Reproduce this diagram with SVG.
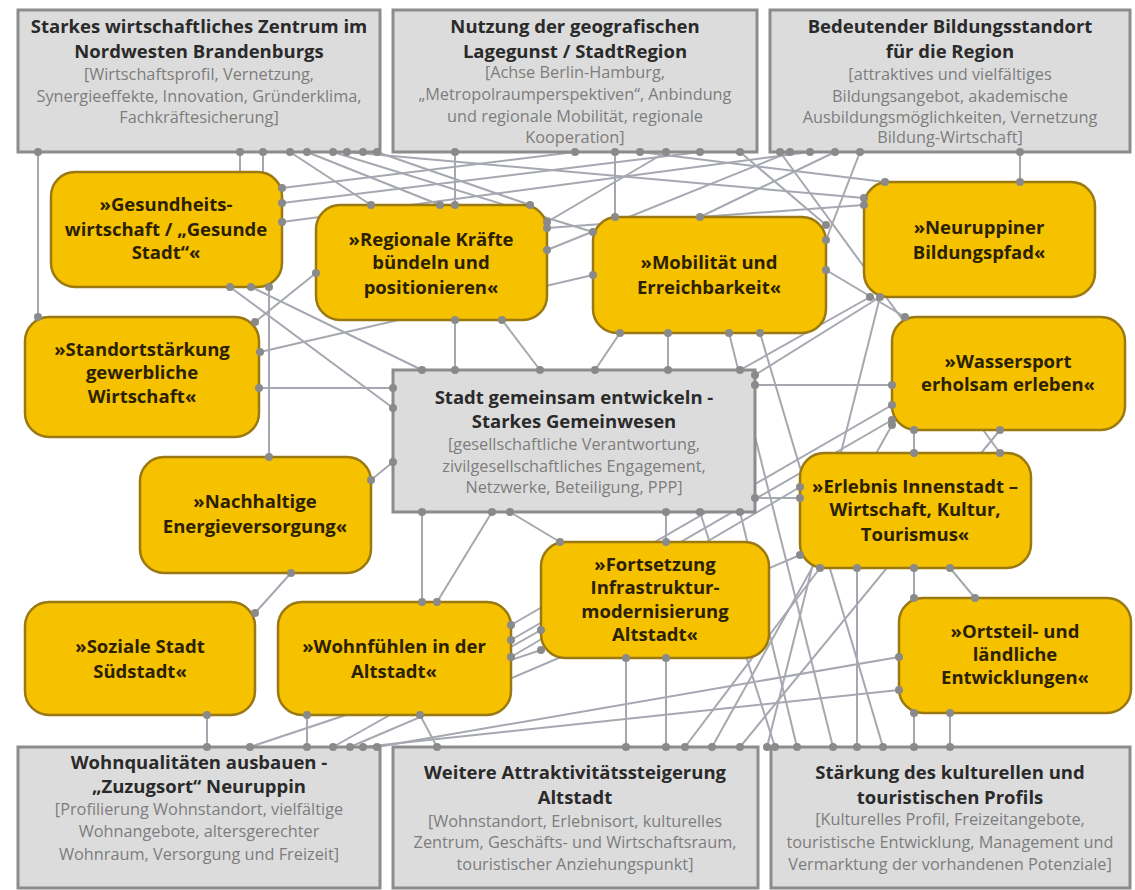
<svg xmlns="http://www.w3.org/2000/svg" width="1135" height="890" viewBox="0 0 1135 890">
<style>
.g rect{fill:#dcdcdc;stroke:#8c8c8c;stroke-width:3}
.y rect{fill:#f6c200;stroke:#9a7812;stroke-width:2.5}
.t{font-family:"Open Sans","Liberation Sans",sans-serif;font-weight:bold;font-size:18.5px;fill:#2a2a2a;text-anchor:middle}
.s{font-family:"Open Sans","Liberation Sans",sans-serif;font-size:16.3px;fill:#7d7d7d;text-anchor:middle}
.yt{font-family:"Open Sans","Liberation Sans",sans-serif;font-weight:bold;font-size:18.5px;fill:#2b2100;text-anchor:middle}
#connectors line{stroke:#a6a8b1;stroke-width:2}
#dots circle{fill:#8a8a8a}
</style>
<rect width="1135" height="890" fill="#ffffff"/>
<g id="connectors">
<line x1="38" y1="152" x2="38" y2="317"/>
<line x1="240" y1="152" x2="240" y2="172"/>
<line x1="263" y1="152" x2="263" y2="172"/>
<line x1="269" y1="287" x2="269" y2="457"/>
<line x1="290" y1="152" x2="371" y2="205"/>
<line x1="307" y1="152" x2="440" y2="205"/>
<line x1="333" y1="152" x2="593" y2="232"/>
<line x1="347" y1="152" x2="864" y2="198"/>
<line x1="377" y1="152" x2="530" y2="205"/>
<line x1="455" y1="152" x2="455" y2="205"/>
<line x1="575" y1="152" x2="282" y2="188"/>
<line x1="700" y1="152" x2="282" y2="203"/>
<line x1="615" y1="152" x2="615" y2="217"/>
<line x1="640" y1="152" x2="885" y2="182"/>
<line x1="666" y1="152" x2="547" y2="222"/>
<line x1="790" y1="152" x2="547" y2="250"/>
<line x1="810" y1="152" x2="282" y2="222"/>
<line x1="835" y1="152" x2="700" y2="217"/>
<line x1="860" y1="152" x2="826" y2="240"/>
<line x1="1020" y1="152" x2="1020" y2="182"/>
<line x1="547" y1="228" x2="864" y2="205"/>
<line x1="826" y1="270" x2="905" y2="317"/>
<line x1="780" y1="152" x2="1000" y2="453"/>
<line x1="740" y1="152" x2="826" y2="225"/>
<line x1="455" y1="320" x2="455" y2="370"/>
<line x1="502" y1="320" x2="540" y2="370"/>
<line x1="620" y1="333" x2="595" y2="370"/>
<line x1="668" y1="333" x2="668" y2="370"/>
<line x1="729" y1="333" x2="833" y2="747"/>
<line x1="760" y1="333" x2="883" y2="747"/>
<line x1="259" y1="388" x2="393" y2="388"/>
<line x1="255" y1="322" x2="316" y2="273"/>
<line x1="260" y1="352" x2="593" y2="275"/>
<line x1="251" y1="287" x2="422" y2="370"/>
<line x1="230" y1="287" x2="393" y2="408"/>
<line x1="371" y1="480" x2="393" y2="462"/>
<line x1="291" y1="573" x2="255" y2="613"/>
<line x1="422" y1="512" x2="422" y2="602"/>
<line x1="492" y1="512" x2="437" y2="602"/>
<line x1="510" y1="512" x2="560" y2="542"/>
<line x1="666" y1="512" x2="666" y2="542"/>
<line x1="755" y1="498" x2="800" y2="498"/>
<line x1="755" y1="385" x2="892" y2="385"/>
<line x1="880" y1="297" x2="755" y2="375"/>
<line x1="740" y1="370" x2="870" y2="297"/>
<line x1="892" y1="405" x2="511" y2="625"/>
<line x1="511" y1="657" x2="800" y2="487"/>
<line x1="511" y1="640" x2="892" y2="420"/>
<line x1="899" y1="657" x2="377" y2="747"/>
<line x1="899" y1="690" x2="363" y2="747"/>
<line x1="800" y1="555" x2="350" y2="747"/>
<line x1="541" y1="630" x2="333" y2="747"/>
<line x1="541" y1="650" x2="250" y2="747"/>
<line x1="207" y1="715" x2="207" y2="747"/>
<line x1="307" y1="715" x2="307" y2="747"/>
<line x1="437" y1="747" x2="420" y2="715"/>
<line x1="626" y1="658" x2="626" y2="747"/>
<line x1="666" y1="658" x2="666" y2="747"/>
<line x1="685" y1="747" x2="820" y2="568"/>
<line x1="712" y1="747" x2="892" y2="425"/>
<line x1="740" y1="747" x2="1000" y2="430"/>
<line x1="767" y1="747" x2="880" y2="297"/>
<line x1="797" y1="747" x2="740" y2="512"/>
<line x1="775" y1="747" x2="700" y2="512"/>
<line x1="950" y1="713" x2="950" y2="747"/>
<line x1="914" y1="430" x2="914" y2="453"/>
<line x1="914" y1="568" x2="914" y2="598"/>
<line x1="914" y1="713" x2="914" y2="747"/>
<line x1="857" y1="568" x2="857" y2="747"/>
<line x1="950" y1="568" x2="975" y2="598"/>
</g>
<g id="n-t1" class="g"><rect x="18" y="10" width="362" height="142"/>
<text class="t" x="199" y="33">Starkes wirtschaftliches Zentrum im</text>
<text class="t" x="199" y="58">Nordwesten Brandenburgs</text>
<text class="s" x="199" y="80">[Wirtschaftsprofil, Vernetzung,</text>
<text class="s" x="199" y="102">Synergieeffekte, Innovation, Gründerklima,</text>
<text class="s" x="199" y="123">Fachkräftesicherung]</text></g>
<g id="n-t2" class="g"><rect x="393" y="10" width="364" height="142"/>
<text class="t" x="575" y="33">Nutzung der geografischen</text>
<text class="t" x="575" y="58">Lagegunst / StadtRegion</text>
<text class="s" x="575" y="78">[Achse Berlin-Hamburg,</text>
<text class="s" x="575" y="100">„Metropolraumperspektiven“, Anbindung</text>
<text class="s" x="575" y="122">und regionale Mobilität, regionale</text>
<text class="s" x="575" y="143">Kooperation]</text></g>
<g id="n-t3" class="g"><rect x="770" y="10" width="360" height="142"/>
<text class="t" x="950" y="33">Bedeutender Bildungsstandort</text>
<text class="t" x="950" y="58">für die Region</text>
<text class="s" x="950" y="80">[attraktives und vielfältiges</text>
<text class="s" x="950" y="102">Bildungsangebot, akademische</text>
<text class="s" x="950" y="123">Ausbildungsmöglichkeiten, Vernetzung</text>
<text class="s" x="950" y="143">Bildung-Wirtschaft]</text></g>
<g id="n-center" class="g"><rect x="393" y="370" width="362" height="142"/>
<text class="t" x="574" y="404">Stadt gemeinsam entwickeln -</text>
<text class="t" x="574" y="428">Starkes Gemeinwesen</text>
<text class="s" x="574" y="450">[gesellschaftliche Verantwortung,</text>
<text class="s" x="574" y="472">zivilgesellschaftliches Engagement,</text>
<text class="s" x="574" y="493">Netzwerke, Beteiligung, PPP]</text></g>
<g id="n-b1" class="g"><rect x="18" y="747" width="362" height="141"/>
<text class="t" x="199" y="769">Wohnqualitäten ausbauen -</text>
<text class="t" x="199" y="793">„Zuzugsort“ Neuruppin</text>
<text class="s" x="199" y="815">[Profilierung Wohnstandort, vielfältige</text>
<text class="s" x="199" y="837">Wohnangebote, altersgerechter</text>
<text class="s" x="199" y="860">Wohnraum, Versorgung und Freizeit]</text></g>
<g id="n-b2" class="g"><rect x="393" y="747" width="365" height="141"/>
<text class="t" x="575" y="779">Weitere Attraktivitätssteigerung</text>
<text class="t" x="575" y="804">Altstadt</text>
<text class="s" x="575" y="827">[Wohnstandort, Erlebnisort, kulturelles</text>
<text class="s" x="575" y="848">Zentrum, Geschäfts- und Wirtschaftsraum,</text>
<text class="s" x="575" y="870">touristischer Anziehungspunkt]</text></g>
<g id="n-b3" class="g"><rect x="771" y="747" width="359" height="141"/>
<text class="t" x="950" y="779">Stärkung des kulturellen und</text>
<text class="t" x="950" y="804">touristischen Profils</text>
<text class="s" x="950" y="825">[Kulturelles Profil, Freizeitangebote,</text>
<text class="s" x="950" y="848">touristische Entwicklung, Management und</text>
<text class="s" x="950" y="870">Vermarktung der vorhandenen Potenziale]</text></g>
<g id="n-gesundheit" class="y"><rect x="51" y="172" width="231" height="115" rx="24"/>
<text class="yt" x="166" y="211">»Gesundheits-</text>
<text class="yt" x="166" y="236">wirtschaft / „Gesunde</text>
<text class="yt" x="166" y="259">Stadt“«</text></g>
<g id="n-regionale" class="y"><rect x="316" y="205" width="231" height="115" rx="24"/>
<text class="yt" x="431" y="246">»Regionale Kräfte</text>
<text class="yt" x="431" y="269">bündeln und</text>
<text class="yt" x="431" y="294">positionieren«</text></g>
<g id="n-standort" class="y"><rect x="25" y="317" width="234" height="120" rx="24"/>
<text class="yt" x="142" y="356">»Standortstärkung</text>
<text class="yt" x="142" y="379">gewerbliche</text>
<text class="yt" x="142" y="403">Wirtschaft«</text></g>
<g id="n-mobilitaet" class="y"><rect x="593" y="217" width="233" height="116" rx="24"/>
<text class="yt" x="709" y="269">»Mobilität und</text>
<text class="yt" x="709" y="294">Erreichbarkeit«</text></g>
<g id="n-bildungspfad" class="y"><rect x="864" y="182" width="231" height="115" rx="24"/>
<text class="yt" x="979" y="234">»Neuruppiner</text>
<text class="yt" x="979" y="259">Bildungspfad«</text></g>
<g id="n-wassersport" class="y"><rect x="892" y="317" width="233" height="113" rx="24"/>
<text class="yt" x="1008" y="368">»Wassersport</text>
<text class="yt" x="1008" y="391">erholsam erleben«</text></g>
<g id="n-energie" class="y"><rect x="140" y="457" width="231" height="116" rx="24"/>
<text class="yt" x="255" y="508">»Nachhaltige</text>
<text class="yt" x="255" y="533">Energieversorgung«</text></g>
<g id="n-erlebnis" class="y"><rect x="800" y="453" width="231" height="115" rx="24"/>
<text class="yt" x="915" y="493">»Erlebnis Innenstadt –</text>
<text class="yt" x="915" y="516">Wirtschaft, Kultur,</text>
<text class="yt" x="915" y="541">Tourismus«</text></g>
<g id="n-fortsetzung" class="y"><rect x="541" y="542" width="228" height="116" rx="24"/>
<text class="yt" x="655" y="571">»Fortsetzung</text>
<text class="yt" x="655" y="594">Infrastruktur-</text>
<text class="yt" x="655" y="618">modernisierung</text>
<text class="yt" x="655" y="641">Altstadt«</text></g>
<g id="n-soziale" class="y"><rect x="25" y="602" width="230" height="113" rx="24"/>
<text class="yt" x="140" y="653">»Soziale Stadt</text>
<text class="yt" x="140" y="678">Südstadt«</text></g>
<g id="n-wohnfuehlen" class="y"><rect x="278" y="602" width="233" height="113" rx="24"/>
<text class="yt" x="394" y="653">»Wohnfühlen in der</text>
<text class="yt" x="394" y="678">Altstadt«</text></g>
<g id="n-ortsteil" class="y"><rect x="899" y="598" width="232" height="115" rx="24"/>
<text class="yt" x="1015" y="638">»Ortsteil- und</text>
<text class="yt" x="1015" y="661">ländliche</text>
<text class="yt" x="1015" y="684">Entwicklungen«</text></g>
<g id="dots">
<circle cx="38" cy="152" r="4"/><circle cx="38" cy="317" r="4"/>
<circle cx="240" cy="152" r="4"/><circle cx="263" cy="152" r="4"/><circle cx="269" cy="287" r="4"/><circle cx="269" cy="457" r="4"/>
<circle cx="290" cy="152" r="4"/><circle cx="307" cy="152" r="4"/><circle cx="333" cy="152" r="4"/><circle cx="347" cy="152" r="4"/><circle cx="363" cy="152" r="4"/><circle cx="377" cy="152" r="4"/>
<circle cx="371" cy="205" r="4"/><circle cx="440" cy="205" r="4"/><circle cx="455" cy="205" r="4"/><circle cx="530" cy="205" r="4"/>
<circle cx="455" cy="152" r="4"/><circle cx="575" cy="152" r="4"/><circle cx="615" cy="152" r="4"/><circle cx="640" cy="152" r="4"/><circle cx="666" cy="152" r="4"/><circle cx="700" cy="152" r="4"/><circle cx="740" cy="152" r="4"/>
<circle cx="780" cy="152" r="4"/><circle cx="790" cy="152" r="4"/><circle cx="810" cy="152" r="4"/><circle cx="835" cy="152" r="4"/><circle cx="860" cy="152" r="4"/><circle cx="1020" cy="152" r="4"/><circle cx="1020" cy="182" r="4"/>
<circle cx="282" cy="188" r="4"/><circle cx="282" cy="203" r="4"/><circle cx="282" cy="222" r="4"/>
<circle cx="593" cy="232" r="4"/><circle cx="615" cy="217" r="4"/><circle cx="700" cy="217" r="4"/><circle cx="826" cy="240" r="4"/><circle cx="826" cy="225" r="4"/><circle cx="826" cy="270" r="4"/>
<circle cx="864" cy="198" r="4"/><circle cx="864" cy="205" r="4"/><circle cx="885" cy="182" r="4"/><circle cx="547" cy="222" r="4"/><circle cx="547" cy="228" r="4"/><circle cx="547" cy="250" r="4"/>
<circle cx="905" cy="317" r="4"/><circle cx="1000" cy="453" r="4"/>
<circle cx="455" cy="320" r="4"/><circle cx="455" cy="370" r="4"/><circle cx="502" cy="320" r="4"/><circle cx="540" cy="370" r="4"/>
<circle cx="620" cy="333" r="4"/><circle cx="595" cy="370" r="4"/><circle cx="668" cy="333" r="4"/><circle cx="668" cy="370" r="4"/><circle cx="729" cy="333" r="4"/><circle cx="760" cy="333" r="4"/>
<circle cx="259" cy="388" r="4"/><circle cx="393" cy="388" r="4"/><circle cx="255" cy="322" r="4"/><circle cx="316" cy="273" r="4"/><circle cx="260" cy="352" r="4"/><circle cx="593" cy="275" r="4"/>
<circle cx="251" cy="287" r="4"/><circle cx="422" cy="370" r="4"/><circle cx="230" cy="287" r="4"/><circle cx="393" cy="408" r="4"/>
<circle cx="371" cy="480" r="4"/><circle cx="393" cy="462" r="4"/><circle cx="291" cy="573" r="4"/><circle cx="255" cy="613" r="4"/>
<circle cx="422" cy="512" r="4"/><circle cx="422" cy="602" r="4"/><circle cx="492" cy="512" r="4"/><circle cx="437" cy="602" r="4"/><circle cx="510" cy="512" r="4"/><circle cx="560" cy="542" r="4"/>
<circle cx="666" cy="512" r="4"/><circle cx="666" cy="542" r="4"/><circle cx="755" cy="498" r="4"/><circle cx="800" cy="498" r="4"/><circle cx="755" cy="385" r="4"/><circle cx="892" cy="385" r="4"/>
<circle cx="880" cy="297" r="4"/><circle cx="755" cy="375" r="4"/><circle cx="740" cy="370" r="4"/><circle cx="870" cy="297" r="4"/>
<circle cx="892" cy="405" r="4"/><circle cx="511" cy="625" r="4"/><circle cx="511" cy="657" r="4"/><circle cx="800" cy="487" r="4"/><circle cx="511" cy="640" r="4"/><circle cx="892" cy="420" r="4"/>
<circle cx="899" cy="657" r="4"/><circle cx="899" cy="690" r="4"/><circle cx="800" cy="555" r="4"/><circle cx="541" cy="630" r="4"/><circle cx="541" cy="650" r="4"/>
<circle cx="250" cy="747" r="4"/><circle cx="333" cy="747" r="4"/><circle cx="350" cy="747" r="4"/><circle cx="363" cy="747" r="4"/><circle cx="377" cy="747" r="4"/>
<circle cx="207" cy="715" r="4"/><circle cx="207" cy="747" r="4"/><circle cx="307" cy="715" r="4"/><circle cx="307" cy="747" r="4"/><circle cx="437" cy="747" r="4"/><circle cx="420" cy="715" r="4"/>
<circle cx="626" cy="658" r="4"/><circle cx="626" cy="747" r="4"/><circle cx="666" cy="658" r="4"/><circle cx="666" cy="747" r="4"/>
<circle cx="685" cy="747" r="4"/><circle cx="820" cy="568" r="4"/><circle cx="712" cy="747" r="4"/><circle cx="892" cy="425" r="4"/><circle cx="740" cy="747" r="4"/><circle cx="1000" cy="430" r="4"/><circle cx="767" cy="747" r="4"/>
<circle cx="797" cy="747" r="4"/><circle cx="740" cy="512" r="4"/><circle cx="775" cy="747" r="4"/><circle cx="700" cy="512" r="4"/><circle cx="833" cy="747" r="4"/><circle cx="883" cy="747" r="4"/>
<circle cx="950" cy="713" r="4"/><circle cx="950" cy="747" r="4"/><circle cx="914" cy="430" r="4"/><circle cx="914" cy="453" r="4"/><circle cx="914" cy="568" r="4"/><circle cx="914" cy="598" r="4"/><circle cx="914" cy="713" r="4"/><circle cx="914" cy="747" r="4"/>
<circle cx="857" cy="568" r="4"/><circle cx="857" cy="747" r="4"/><circle cx="950" cy="568" r="4"/><circle cx="975" cy="598" r="4"/>
</g>
</svg>
